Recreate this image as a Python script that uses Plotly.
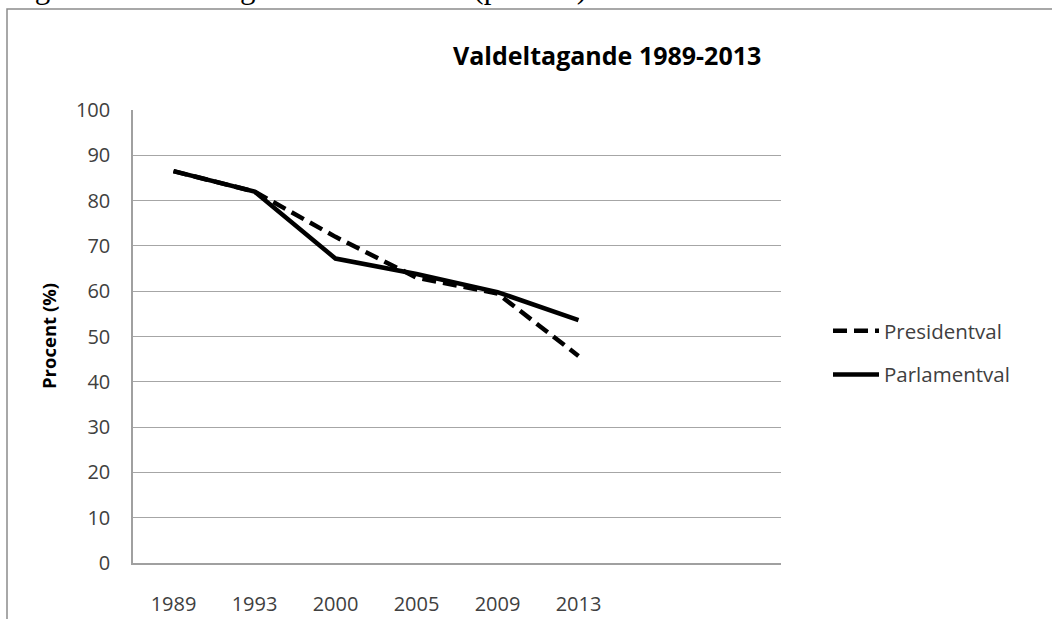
import plotly.graph_objects as go

years = ["1989", "1993", "2000", "2005", "2009", "2013"]
presidentval = [86.5, 82.0, 72.0, 63.0, 59.5, 45.7]
parlamentval = [86.5, 82.0, 67.2, 63.8, 59.8, 53.6]
y_ticks = [0, 10, 20, 30, 40, 50, 60, 70, 80, 90, 100]

W, H = 1052, 619
L, R, T, B = 133, 781, 110, 563   # plot area in pixels


def px(x):
    return (x - L) / (R - L)


def py(y):
    return (B - y) / (B - T)


x_idx = list(range(len(years)))

fig = go.Figure()
fig.add_trace(go.Scatter(
    x=x_idx, y=presidentval, mode="lines", name="Presidentval",
    line=dict(color="black", width=4.5, dash="14px,7px"),
    legendgroup="a", hoverinfo="skip"))
fig.add_trace(go.Scatter(
    x=x_idx, y=parlamentval, mode="lines", name="Parlamentval",
    line=dict(color="black", width=4.5),
    legendgroup="b", hoverinfo="skip"))

tick_font = dict(family="Open Sans", size=20, color="#404040")

fig.update_layout(
    width=W, height=H,
    margin=dict(l=L, r=W - R, t=T, b=H - B, pad=0, autoexpand=False),
    paper_bgcolor="white", plot_bgcolor="white",
    showlegend=True,
    legend=dict(x=px(828), y=py(311), xanchor="left", yanchor="top",
                font=dict(family="Open Sans", size=20.5, color="#404040"),
                tracegroupgap=14, traceorder="grouped",
                bgcolor="rgba(0,0,0,0)", itemwidth=46),
    xaxis=dict(range=[-0.5, 7.5], tickmode="array", tickvals=x_idx,
               ticktext=years, showgrid=False, zeroline=False,
               showline=True, linecolor="#a0a0a0", linewidth=1.5,
               ticks="", tickfont=tick_font, ticklabelstandoff=22,
               automargin=False),
    yaxis=dict(range=[0, 100], tickmode="array", tickvals=y_ticks,
               showgrid=True, gridcolor="#a6a6a6", gridwidth=1.3,
               zeroline=False, showline=True, linecolor="#a0a0a0",
               linewidth=1.5, ticks="", tickfont=tick_font,
               ticklabelstandoff=17, automargin=False),
    annotations=[
        dict(text="<b>Valdeltagande 1989-2013</b>", xref="paper", yref="paper",
             x=px(607), y=py(55), xanchor="center", yanchor="middle",
             showarrow=False,
             font=dict(family="Open Sans", size=25, color="black")),
        dict(text="<b>Procent (%)</b>", xref="paper", yref="paper",
             x=px(48), y=py(336), xanchor="center", yanchor="middle",
             textangle=-90, showarrow=False,
             font=dict(family="Open Sans", size=18.5, color="black")),
        dict(text="Figur 1.1: Valdeltagande i Rumänien (procent)",
             xref="paper", yref="paper", x=px(7), y=py(7),
             xanchor="left", yanchor="bottom", showarrow=False,
             font=dict(family="Liberation Serif", size=31, color="black")),
    ],
    shapes=[
        dict(type="rect", xref="paper", yref="paper",
             x0=px(7), x1=px(1070), y0=py(9), y1=py(640),
             line=dict(color="#8c8c8c", width=1.5), fillcolor="rgba(0,0,0,0)",
             layer="below"),
    ],
)

fig.write_html("out.html", config={"displayModeBar": False},
               post_script="document.body.style.margin='0';"
                           "document.body.style.overflow='hidden';")
